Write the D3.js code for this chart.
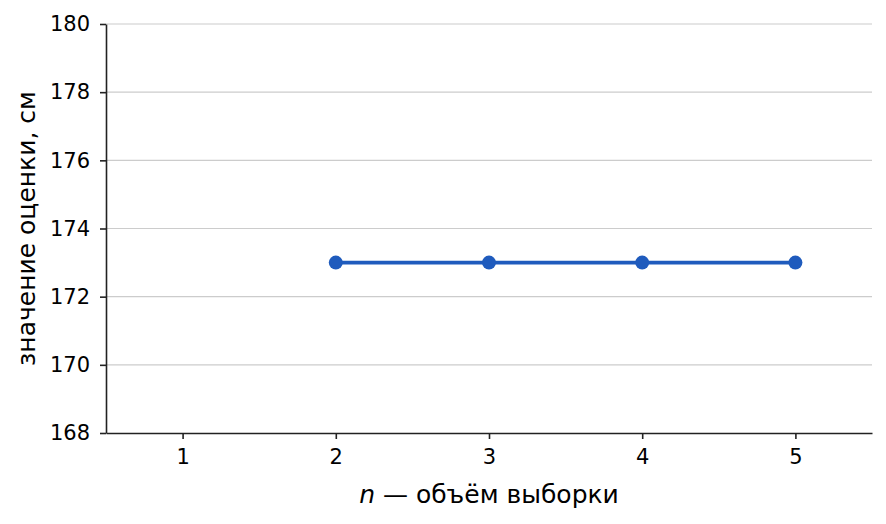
<!DOCTYPE html>
<html>
<head>
<meta charset="utf-8">
<script src="https://cdn.jsdelivr.net/npm/d3@7"></script>
<style>
  body { margin: 0; background: #fff; }
  text { font-family: "DejaVu Sans", sans-serif; }
</style>
</head>
<body>
<script>
// Data
var sampleSizes = [2, 3, 4, 5];
var estimates   = [173, 173, 173, 173];
var xTicks = [1, 2, 3, 4, 5];
var yTicks = [168, 170, 172, 174, 176, 178, 180];

var width = 886, height = 524;
var margin = {left: 106, right: 14, top: 24, bottom: 91};

var svg = d3.select("body").append("svg")
    .attr("width", width)
    .attr("height", height);

var x = d3.scaleLinear().domain([0.5, 5.5]).range([margin.left, width - margin.right]);
var y = d3.scaleLinear().domain([168, 180]).range([height - margin.bottom, margin.top]);

// grid
svg.append("g").selectAll("line")
    .data(yTicks.filter(function(d){ return d > 168; }))
    .enter().append("line")
    .attr("x1", margin.left).attr("x2", width - margin.right)
    .attr("y1", function(d){ return y(d); }).attr("y2", function(d){ return y(d); })
    .attr("stroke", "#cccccc").attr("stroke-width", 1.2);

// axes
var xAxis = svg.append("g")
    .attr("transform", "translate(0," + (height - margin.bottom) + ")")
    .call(d3.axisBottom(x).tickValues(xTicks).tickFormat(d3.format("d")).tickSize(6).tickPadding(10).tickSizeOuter(0));
var yAxis = svg.append("g")
    .attr("transform", "translate(" + margin.left + ",0)")
    .call(d3.axisLeft(y).tickValues(yTicks).tickFormat(d3.format("d")).tickSize(6).tickPadding(10).tickSizeOuter(0));

[xAxis, yAxis].forEach(function(a){
    a.attr("font-size", null).attr("font-family", null);
    a.select(".domain").attr("stroke", "#222").attr("stroke-width", 1.6);
    a.selectAll(".tick line").attr("stroke", "#222").attr("stroke-width", 1.6);
    a.selectAll(".tick text").attr("fill", "#000").style("font-size", "21px");
});

// line
var line = d3.line()
    .x(function(d, i){ return x(sampleSizes[i]); })
    .y(function(d){ return y(d); });

svg.append("path")
    .datum(estimates)
    .attr("d", line)
    .attr("fill", "none")
    .attr("stroke", "#1f5bbd")
    .attr("stroke-width", 3.6);

svg.append("g").selectAll("circle")
    .data(estimates)
    .enter().append("circle")
    .attr("cx", function(d, i){ return x(sampleSizes[i]); })
    .attr("cy", function(d){ return y(d); })
    .attr("r", 7)
    .attr("fill", "#1f5bbd");

// labels
var xl = svg.append("text")
    .attr("x", (margin.left + width - margin.right) / 2)
    .attr("y", 503)
    .attr("text-anchor", "middle")
    .style("font-size", "25px");
xl.append("tspan").style("font-style", "italic").text("n");
xl.append("tspan").text(" — объём выборки");

svg.append("text")
    .attr("transform", "translate(35," + ((margin.top + height - margin.bottom) / 2) + ") rotate(-90)")
    .attr("text-anchor", "middle")
    .style("font-size", "25px")
    .text("значение оценки, см");
</script>
</body>
</html>
